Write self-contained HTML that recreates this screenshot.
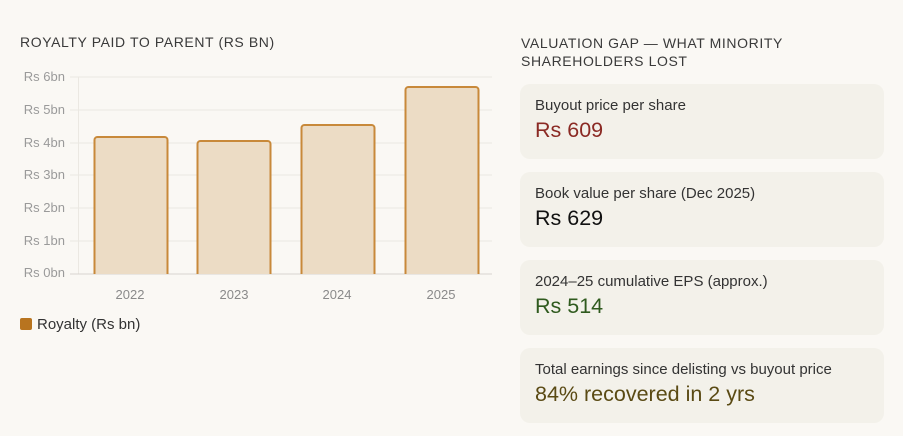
<!DOCTYPE html>
<html><head><style>
body{margin:0;width:903px;height:436px;background:#faf8f4;font-family:"Liberation Sans",sans-serif;position:relative;overflow:hidden}
.t{position:absolute;color:#3a3a3a;font-size:14px;letter-spacing:0.6px;line-height:18px}
.card{position:absolute;left:520px;width:364px;height:75px;background:#f3f1ea;border-radius:10px}
.card .l{position:absolute;left:15px;top:13px;font-size:15px;color:#333}
.card .v{position:absolute;left:15px;top:34px;font-size:21.5px}
</style></head><body>
<div class="t" style="left:20px;top:33px">ROYALTY PAID TO PARENT (RS BN)</div>
<svg style="position:absolute;left:0;top:0" width="520" height="340">
<g stroke="#ebe8e2" stroke-width="1">
<line x1="70" y1="77" x2="492" y2="77"/><line x1="70" y1="110" x2="492" y2="110"/><line x1="70" y1="143" x2="492" y2="143"/><line x1="70" y1="175" x2="492" y2="175"/><line x1="70" y1="208" x2="492" y2="208"/><line x1="70" y1="241" x2="492" y2="241"/>
<line x1="78.5" y1="77" x2="78.5" y2="274"/>
</g>
<line x1="70" y1="274" x2="492" y2="274" stroke="#d8d5cf"/>
<g fill="#ecdcc5" stroke="#c8893a" stroke-width="2">
<path d="M94.5 274V140a3 3 0 0 1 3-3h67a3 3 0 0 1 3 3V274"/>
<path d="M197.5 274V144a3 3 0 0 1 3-3h67a3 3 0 0 1 3 3V274"/>
<path d="M301.5 274V128a3 3 0 0 1 3-3h67a3 3 0 0 1 3 3V274"/>
<path d="M405.5 274V90a3 3 0 0 1 3-3h67a3 3 0 0 1 3 3V274"/>
</g>
<g fill="#9a9a9a" font-size="13" text-anchor="end" font-family="Liberation Sans">
<text x="65" y="81">Rs 6bn</text><text x="65" y="114">Rs 5bn</text><text x="65" y="147">Rs 4bn</text><text x="65" y="179">Rs 3bn</text><text x="65" y="212">Rs 2bn</text><text x="65" y="245">Rs 1bn</text><text x="65" y="277">Rs 0bn</text>
</g>
<g fill="#8a8a8a" font-size="13" text-anchor="middle" font-family="Liberation Sans">
<text x="130" y="299">2022</text><text x="234" y="299">2023</text><text x="337" y="299">2024</text><text x="441" y="299">2025</text>
</g>
<rect x="20" y="318" width="12" height="12" rx="2" fill="#b8741f"/>
<text x="37" y="329" font-size="15" fill="#333" font-family="Liberation Sans">Royalty (Rs bn)</text>
</svg>
<div class="t" style="left:521px;top:34px">VALUATION GAP — WHAT MINORITY<br>SHAREHOLDERS LOST</div>
<div class="card" style="top:84px"><div class="l">Buyout price per share</div><div class="v" style="color:#8b2a24">Rs 609</div></div>
<div class="card" style="top:172px"><div class="l">Book value per share (Dec 2025)</div><div class="v" style="color:#111">Rs 629</div></div>
<div class="card" style="top:260px"><div class="l">2024–25 cumulative EPS (approx.)</div><div class="v" style="color:#2f5a1e">Rs 514</div></div>
<div class="card" style="top:348px"><div class="l">Total earnings since delisting vs buyout price</div><div class="v" style="color:#5a4a14">84% recovered in 2 yrs</div></div>
</body></html>
